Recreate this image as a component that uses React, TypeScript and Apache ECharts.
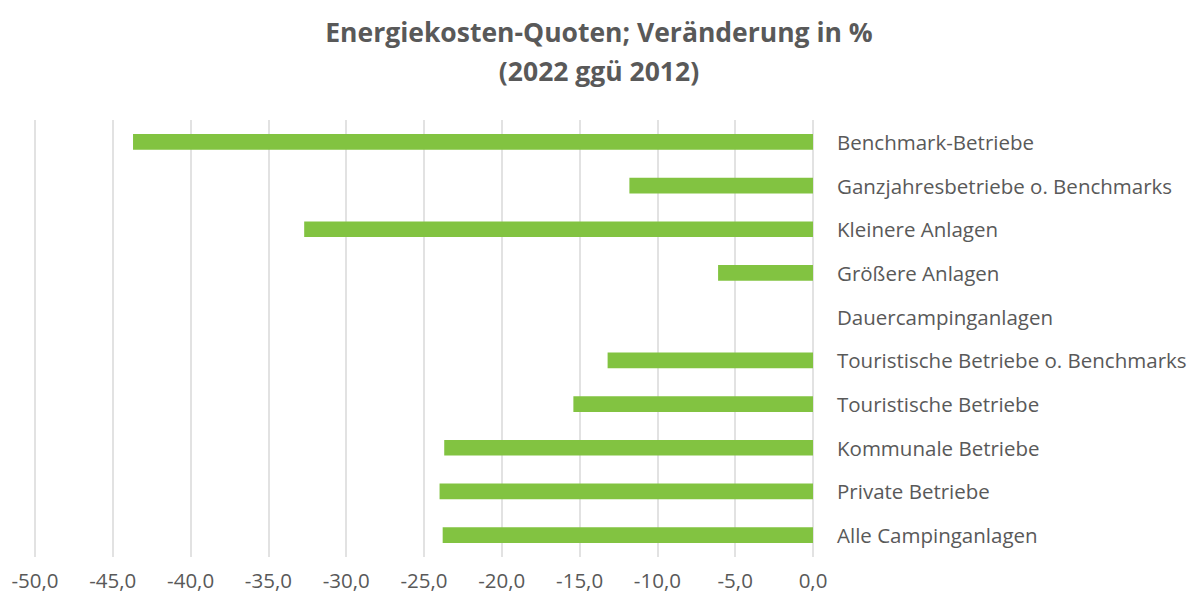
import React, { useEffect, useRef } from "react";
import * as echarts from "echarts";

const categories = [
  "Benchmark-Betriebe",
  "Ganzjahresbetriebe o. Benchmarks",
  "Kleinere Anlagen",
  "Größere Anlagen",
  "Dauercampinganlagen",
  "Touristische Betriebe o. Benchmarks",
  "Touristische Betriebe",
  "Kommunale Betriebe",
  "Private Betriebe",
  "Alle Campinganlagen",
];
const values = [-43.7, -11.8, -32.7, -6.1, 0, -13.2, -15.4, -23.7, -24.0, -23.8];
const titleLines = ["Energiekosten-Quoten; Veränderung in %", "(2022 ggü 2012)"];

export default function App() {
  const ref = useRef<HTMLDivElement>(null);
  useEffect(() => {
    if (!ref.current) return;
    const chart = echarts.init(ref.current, null, { renderer: "svg" });
    chart.setOption({
      animation: false,
      backgroundColor: "#ffffff",
      title: {
        text: titleLines.join("\n"),
        left: "center",
        top: 7,
        textStyle: {
          fontFamily: "Open Sans",
          fontSize: 26.5,
          fontWeight: "bold",
          color: "#595959",
          lineHeight: 39,
        },
      },
      grid: { left: 35, right: 385, top: 120, bottom: 42, containLabel: false },
      xAxis: {
        type: "value",
        min: -50,
        max: 0,
        interval: 5,
        axisLine: { show: false },
        axisTick: { show: false },
        splitLine: { show: true, lineStyle: { color: "#d9d9d9", width: 1.5 } },
        axisLabel: {
          color: "#595959",
          fontFamily: "Open Sans",
          fontSize: 20.5,
          margin: 12,
          formatter: (v: number) => v.toFixed(1).replace(".", ","),
        },
      },
      yAxis: {
        type: "category",
        data: categories,
        inverse: true,
        position: "right",
        axisLine: { show: false },
        axisTick: { show: false },
        splitLine: { show: false },
        axisLabel: {
          color: "#595959",
          fontFamily: "Open Sans",
          fontSize: 20.5,
          margin: 24,
          align: "left",
        },
      },
      series: [
        {
          type: "bar",
          data: values,
          barWidth: "36%",
          itemStyle: { color: "#82c341" },
        },
      ],
    });
    return () => chart.dispose();
  }, []);
  return <div ref={ref} style={{ width: 1198, height: 599, position: "absolute", left: 0, top: 0 }} />;
}
